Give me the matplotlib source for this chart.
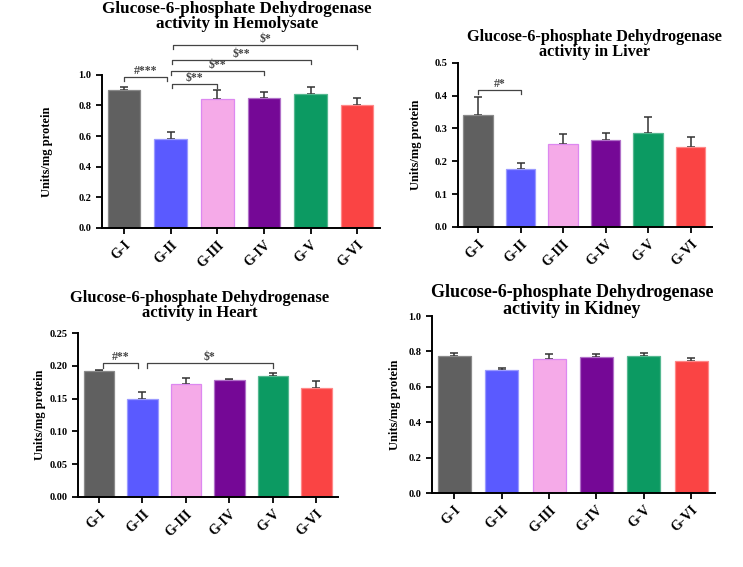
import numpy as np
import matplotlib
matplotlib.use('Agg')
import matplotlib.pyplot as plt

plt.rcParams['font.family'] = 'Liberation Serif'
plt.rcParams['font.weight'] = 'bold'

groups = ['G-I', 'G-II', 'G-III', 'G-IV', 'G-V', 'G-VI']
bar_colors = ['#606060', '#5a5aff', '#f5aae8', '#750896', '#0c9a62', '#fa4444']
edge_colors = ['#8a8a8a', '#9a9aff', '#dd88f0', '#b070c8', '#55b890', '#ff8888']

# mean values and SEM (upper error only)
hemo_mean = [0.902, 0.580, 0.843, 0.852, 0.872, 0.800]
hemo_err = [0.018, 0.046, 0.055, 0.035, 0.050, 0.048]
liver_mean = [0.342, 0.177, 0.252, 0.265, 0.287, 0.242]
liver_err = [0.054, 0.018, 0.032, 0.022, 0.048, 0.032]
heart_mean = [0.1916, 0.149, 0.172, 0.178, 0.185, 0.167]
heart_err = [0.0024, 0.011, 0.010, 0.0024, 0.004, 0.010]
kidney_mean = [0.774, 0.696, 0.757, 0.770, 0.775, 0.747]
kidney_err = [0.020, 0.008, 0.026, 0.017, 0.019, 0.017]

# significance brackets: (start, end, height, label)
hemo_sig = [(0, 0.91, 0.989, '#***'), (1.03, 2, 0.941, '$**'), (1.0, 3, 1.022, '$**'),
            (1.02, 4, 1.098, '$**'), (1.05, 5, 1.195, '$*')]
liver_sig = [(0, 1, 0.418, '#*')]
heart_sig = [(0.1, 0.9, 0.204, '#**'), (1.1, 4, 0.204, '$*')]


def bar_panel(ax, mean, err, ylim, yticks, fmt, title, title_pos, title_size, label_x,
              sig=None, spacing=0.95):
    x = np.arange(len(groups))
    ax.bar(x, mean, width=0.7, color=bar_colors, edgecolor=edge_colors, linewidth=0.9, zorder=2)
    ax.errorbar(x, mean, yerr=[np.zeros(len(err)), err], fmt='none', ecolor='#333333',
                elinewidth=1.1, capsize=3, capthick=1.1, zorder=1)
    ax.set_xlim(-0.48, 5.5)
    ax.set_ylim(*ylim)
    ax.set_yticks(yticks)
    ax.set_yticklabels([fmt.format(v) for v in yticks], fontsize=7.5, fontweight='bold')
    ax.set_xticks(x)
    ax.set_xticklabels(groups, rotation=45, ha='right', rotation_mode='anchor',
                       fontsize=10, fontweight='bold')
    for s in ['top', 'right']:
        ax.spines[s].set_visible(False)
    for s in ['left', 'bottom']:
        ax.spines[s].set_linewidth(1.4)
    ax.tick_params(width=1.3, length=4)
    ax.set_ylabel('Units/mg protein', fontsize=9, fontweight='bold')
    ax.yaxis.set_label_coords(label_x, 0.5)
    ax.text(title_pos[0], title_pos[1], title, transform=ax.transAxes, ha='center', va='top',
            fontsize=title_size, fontweight='bold', linespacing=spacing)
    if sig:
        drop = (ylim[1] - ylim[0]) * 0.026
        for x0, x1, h, lab in sig:
            ax.plot([x0, x0, x1, x1], [h - drop, h, h, h - drop], color='#444444',
                    lw=0.9, clip_on=False)
            ax.text((x0 + x1) / 2, h, lab, ha='center', va='bottom',
                    fontsize=8.5, fontweight='bold', color='#444444', clip_on=False)


fig = plt.figure(figsize=(7.43, 5.67), dpi=100)

ax1 = fig.add_axes([0.137, 0.598, 0.375, 0.270])
bar_panel(ax1, hemo_mean, hemo_err, (0, 1.0), np.arange(0, 1.01, 0.2), '{:.1f}',
          'Glucose-6-phosphate Dehydrogenase\nactivity in Hemolysate', (0.486, 1.48), 12.3,
          -0.175, hemo_sig, spacing=0.88)

ax2 = fig.add_axes([0.616, 0.600, 0.342, 0.289])
bar_panel(ax2, liver_mean, liver_err, (0, 0.5), np.arange(0, 0.51, 0.1), '{:.1f}',
          'Glucose-6-phosphate Dehydrogenase\nactivity in Liver', (0.537, 1.21), 11.7,
          -0.14, liver_sig)

ax3 = fig.add_axes([0.105, 0.1235, 0.350, 0.289])
bar_panel(ax3, heart_mean, heart_err, (0, 0.25), np.arange(0, 0.251, 0.05), '{:.2f}',
          'Glucose-6-phosphate Dehydrogenase\nactivity in Heart', (0.469, 1.265), 11.9,
          -0.125, heart_sig)

ax4 = fig.add_axes([0.581, 0.1305, 0.381, 0.312])
bar_panel(ax4, kidney_mean, kidney_err, (0, 1.0), np.arange(0, 1.01, 0.2), '{:.1f}',
          'Glucose-6-phosphate Dehydrogenase\nactivity in Kidney', (0.495, 1.18), 13,
          -0.11)

fig.savefig('out.png', dpi=100)
